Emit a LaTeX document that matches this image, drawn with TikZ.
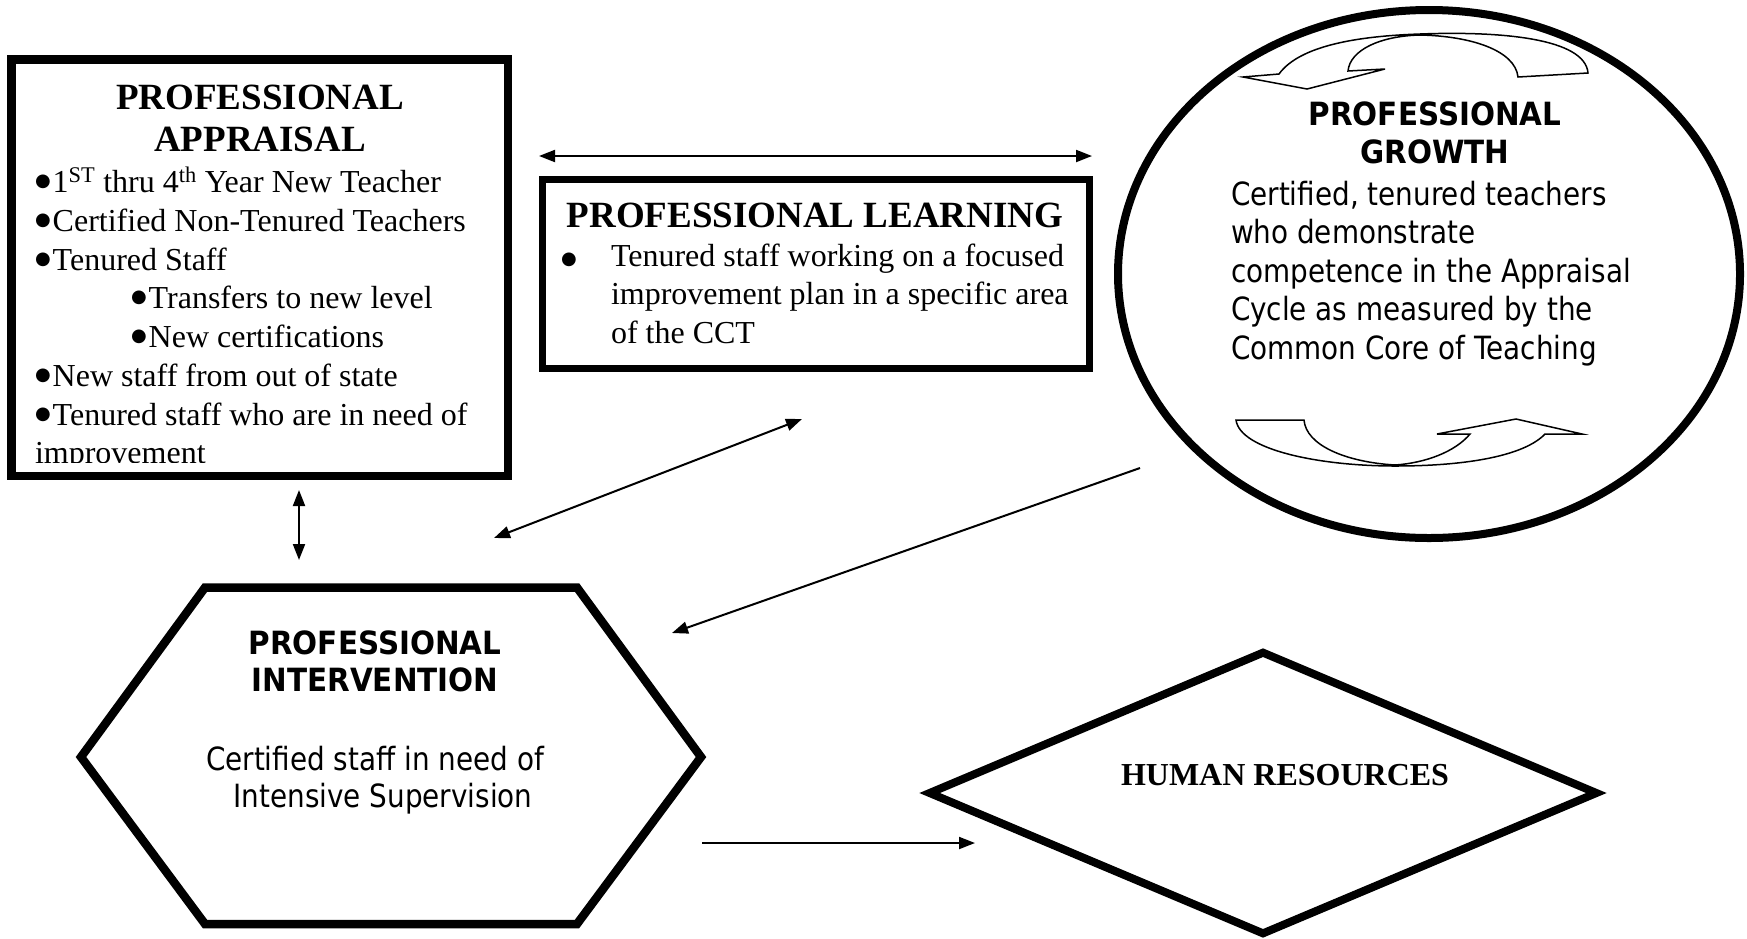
\documentclass[tikz,border=0pt]{standalone}
\usepackage{fontspec}
\setmainfont{Liberation Serif}
\newfontfamily\tah[FakeStretch=0.87]{DejaVu Sans}
\newfontfamily\tahb[FakeStretch=0.92]{DejaVu Sans}
\newfontfamily\dv{DejaVu Sans}
\usetikzlibrary{arrows.meta,shapes.geometric}
\newcommand\bulA{\raisebox{5.5pt}{\dv\fontsize{18}{18}\selectfont ●}\hspace{2pt}}
\newcommand\bulB{\raisebox{2pt}{\dv\fontsize{18}{18}\selectfont ●}}
\begin{document}
\begin{tikzpicture}[x=1pt,y=-1pt,
  ser/.style={font=\fontsize{32}{38.7}\selectfont, inner sep=0pt, outer sep=0pt},
  sertitle/.style={font=\fontsize{37}{42}\selectfont\bfseries, inner sep=0pt, outer sep=0pt},
  sans/.style={font=\tah\fontsize{32}{38}\selectfont, inner sep=0pt, outer sep=0pt},
  sanstitle/.style={font=\tahb\bfseries\fontsize{32}{38}\selectfont, inner sep=0pt, outer sep=0pt},
  conn/.style={line width=2pt, -{Triangle[length=16pt,width=12pt]}},
  dconn/.style={line width=2pt, {Triangle[length=16pt,width=12pt]}-{Triangle[length=16pt,width=12pt]}},
  thickbox/.style={draw, line width=8.5pt, inner sep=0pt, outer sep=0pt, line join=miter},
  curvy/.style={draw, line width=1.5pt, fill=white, line join=miter}
]
\useasboundingbox (0,0) rectangle (1747,938);

% ---------- Professional Appraisal ----------
\begin{scope}
\clip (0,0) rectangle (520,462.5);
\node[sertitle, anchor=base] (a1) at (260,109) {PROFESSIONAL};
\node[sertitle, anchor=base] (a2) at (260,151) {APPRAISAL};
\node[ser, anchor=base west] (a3) at (35,192) {\bulA1\textsuperscript{ST} thru 4\textsuperscript{th} Year New Teacher};
\node[ser, anchor=base west] (a4) at (35,231) {\bulA Certified Non-Tenured Teachers};
\node[ser, anchor=base west] (a5) at (35,270) {\bulA Tenured Staff};
\node[ser, anchor=base west] (a6) at (131,308) {\bulA Transfers to new level};
\node[ser, anchor=base west] (a7) at (131,347) {\bulA New certifications};
\node[ser, anchor=base west] (a8) at (35,386) {\bulA New staff from out of state};
\node[ser, anchor=base west] (a9) at (35,425) {\bulA Tenured staff who are in need of};
\node[ser, anchor=base west] (a10) at (35,463) {improvement};
\end{scope}
\node[thickbox, minimum width=496.5pt, minimum height=416.5pt] (appraisal) at (259.5,267.5) {};

% ---------- Professional Learning ----------
\node[thickbox, line width=7pt, minimum width=547pt, minimum height=189pt] (learning) at (816,274) {};
\node[sertitle, anchor=base] (l1) at (815,227) {PROFESSIONAL LEARNING};
\node[ser, anchor=base] (lb) at (569,266) {\bulB};
\node[ser, anchor=base west] (l2) at (611,266) {Tenured staff working on a focused};
\node[ser, anchor=base west] (l3) at (611,304.5) {improvement plan in a specific area};
\node[ser, anchor=base west] (l4) at (611,343) {of the CCT};

% ---------- Professional Growth ----------
\node[draw, ellipse, line width=8pt, minimum width=622pt, minimum height=528pt, inner sep=0pt] (growth) at (1429,274) {};
\draw[curvy] (1279,74) .. controls (1300,45) and (1360,36) .. (1420,34)
  .. controls (1500,31) and (1585,38) .. (1588,73) -- (1518,77)
  .. controls (1515,50) and (1470,36) .. (1420,35)
  .. controls (1380,36) and (1350,50) .. (1348,71) -- (1385,69) -- (1307,89) -- (1243,77) -- cycle;
\draw[curvy] (1236,420) .. controls (1240,450) and (1320,466) .. (1395,466)
  .. controls (1470,466) and (1525,455) .. (1545,434) -- (1582,434) -- (1516,419) -- (1437,434) -- (1470,434)
  .. controls (1455,452) and (1425,463) .. (1395,465)
  .. controls (1345,462) and (1306,445) .. (1304,420) -- cycle;
\node[sanstitle, anchor=base] (g1) at (1435,125) {PROFESSIONAL};
\node[sanstitle, anchor=base] (g2) at (1435,163) {GROWTH};
\node[sans, anchor=base west] (g3) at (1231,205) {Certified, tenured teachers};
\node[sans, anchor=base west] (g4) at (1231,243.5) {who demonstrate};
\node[sans, anchor=base west] (g5) at (1231,282) {competence in the Appraisal};
\node[sans, anchor=base west] (g6) at (1231,320.5) {Cycle as measured by the};
\node[sans, anchor=base west] (g7) at (1231,359) {Common Core of Teaching};

% ---------- Professional Intervention ----------
\coordinate (h1) at (205,587.5);
\coordinate (h2) at (577,587.5);
\coordinate (h3) at (701,757);
\coordinate (h4) at (577,924);
\coordinate (h5) at (205,924);
\coordinate (h6) at (81,757);
\draw[line width=8.5pt, line join=miter] (h1) -- (h2) -- (h3) -- (h4) -- (h5) -- (h6) -- cycle;
\node[sanstitle, anchor=base] (i1) at (375,654) {PROFESSIONAL};
\node[sanstitle, anchor=base] (i2) at (375,691) {INTERVENTION};
\node[sans, anchor=base] (i3) at (375,770) {Certified staff in need of};
\node[sans, anchor=base] (i4) at (383,807) {Intensive Supervision};

% ---------- Human Resources ----------
\node[draw, diamond, line width=8pt, line join=miter, minimum width=670pt, minimum height=284pt, inner sep=0pt] (hr) at (1263,793) {};
\node[font=\fontsize{32}{38}\selectfont\bfseries, inner sep=0pt, anchor=base] (hrt) at (1285,785) {HUMAN RESOURCES};

% ---------- Connectors ----------
\coordinate (c1a) at (539,156);
\coordinate (c1b) at (1092,156);
\draw[dconn] (c1a) -- (c1b);
\coordinate (c2a) at (299,490);
\coordinate (c2b) at (299,560);
\draw[dconn] (c2a) -- (c2b);
\coordinate (c3a) at (494,538);
\coordinate (c3b) at (802,419);
\draw[dconn] (c3a) -- (c3b);
\coordinate (c4a) at (1140,468);
\coordinate (c4b) at (672,633);
\draw[conn] (c4a) -- (c4b);
\coordinate (c5a) at (702,843);
\coordinate (c5b) at (975,843);
\draw[conn] (c5a) -- (c5b);
\end{tikzpicture}
\end{document}
